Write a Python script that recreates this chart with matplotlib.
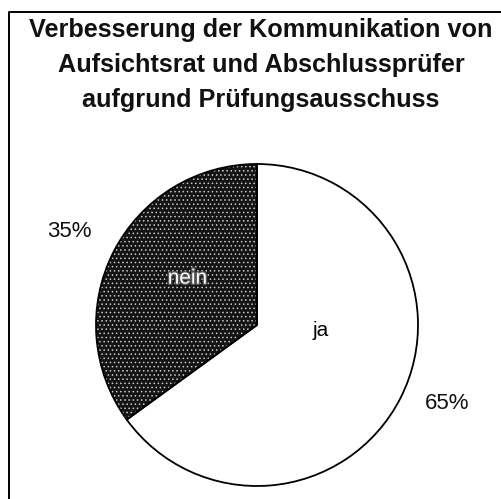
import numpy as np
import matplotlib
matplotlib.use("Agg")
import matplotlib.pyplot as plt
import matplotlib.patheffects as pe

plt.rcParams['font.family'] = ['Liberation Sans', 'DejaVu Sans']
plt.rcParams['hatch.linewidth'] = 0.6

title_lines = ["Verbesserung der Kommunikation von",
               "Aufsichtsrat und Abschlussprüfer",
               "aufgrund Prüfungsausschuss"]
labels = ["ja", "nein"]
values = [65, 35]
pct_labels = ["65%", "35%"]

W, H = 502, 499
fig = plt.figure(figsize=(W / 100, H / 100), dpi=100)
ax = fig.add_axes([0, 0, 1, 1])

cx, cy, r = 257, 174, 161
faces = ['white', '#141414']

# fill + texture
wedges, _ = ax.pie(values, colors=faces, startangle=90, counterclock=False,
                   center=(cx, cy), radius=r, frame=True,
                   wedgeprops=dict(linewidth=0, edgecolor='white'))
wedges[1].set_hatch('....')
wedges[1].set_edgecolor('#c8c8c8')
# outlines
ax.pie(values, colors=['none', 'none'], startangle=90, counterclock=False,
       center=(cx, cy), radius=r, frame=True,
       wedgeprops=dict(linewidth=1.3, edgecolor='black', fill=False))
ax.set_xlim(0, W)
ax.set_ylim(0, H)
ax.set_aspect('equal')
ax.set_axis_off()

# frame (only left and top edge visible)
ax.plot([9, 9, 502], [0, 487, 487], color='black', lw=1.4)

# label placement (distance, angle shift from wedge middle)
name_pos = [(0.40, 22), (0.52, -7)]
pct_pos = [(1.28, 4.5), (1.30, 0.5)]
for i, w in enumerate(wedges):
    mid = np.deg2rad((w.theta1 + w.theta2) / 2)
    d, sh = name_pos[i]
    a = mid + np.deg2rad(sh)
    x, y = cx + d * r * np.cos(a), cy + d * r * np.sin(a)
    if i == 1:
        ax.text(x, y, labels[i], ha='center', va='center', fontsize=15,
                color='white',
                path_effects=[pe.withStroke(linewidth=2, foreground='#555555')])
    else:
        ax.text(x, y, labels[i], ha='center', va='center', fontsize=15,
                color='black')
    d, sh = pct_pos[i]
    a = mid + np.deg2rad(sh)
    x, y = cx + d * r * np.cos(a), cy + d * r * np.sin(a)
    ax.text(x, y, pct_labels[i], ha='center', va='center', fontsize=16,
            color='#111111')

for k, line in enumerate(title_lines):
    ax.text(261, H - 37 - 35 * k, line, ha='center', va='baseline',
            fontsize=18.2, fontweight='bold', color='#111111')

fig.savefig('out.png', dpi=100)
